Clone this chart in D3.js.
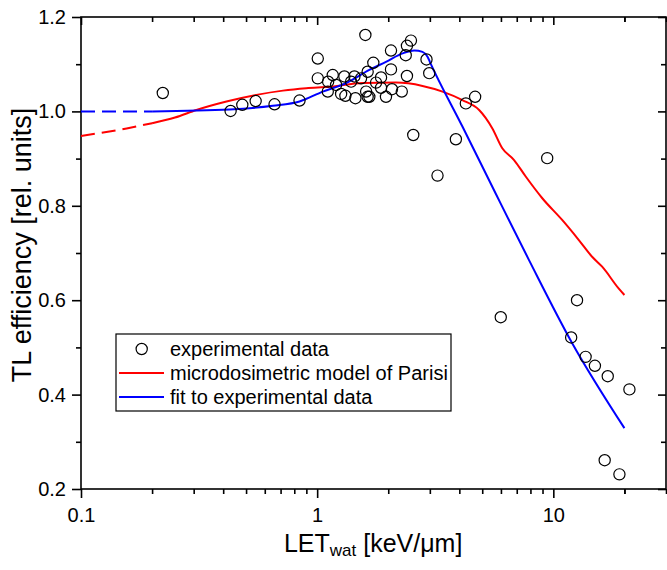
<!DOCTYPE html>
<html>
<head>
<meta charset="utf-8">
<script src="https://cdn.jsdelivr.net/npm/d3@7"></script>
<style>
  html, body { margin: 0; padding: 0; background: #fff; }
  svg { display: block; font-family: "Liberation Sans", Arial, sans-serif; }
</style>
</head>
<body>
<div id="chart"></div>
<script>
// ─── Data ────────────────────────────────────────────────────────────────────
const expX = [0.222, 0.430, 0.482, 0.549, 0.660, 0.842, 1.006, 1.006, 1.109, 1.113,
  1.164, 1.203, 1.263, 1.304, 1.317, 1.392, 1.438, 1.452, 1.534, 1.600,
  1.612, 1.636, 1.663, 1.636, 1.729, 1.776, 1.864, 1.864, 1.956, 2.054,
  2.054, 2.074, 2.282, 2.372, 2.400, 2.400, 2.495, 2.904, 2.982, 2.552,
  3.233, 3.867, 4.262, 4.665, 5.99, 9.42, 11.9, 12.6, 13.7, 15.0,
  17.0, 21.0, 16.5, 19.05];
const expY = [1.039, 1.001, 1.014, 1.022, 1.015, 1.023, 1.112, 1.070, 1.042, 1.063,
  1.077, 1.056, 1.037, 1.074, 1.033, 1.063, 1.074, 1.028, 1.070, 1.162,
  1.042, 1.031, 1.031, 1.084, 1.103, 1.061, 1.072, 1.050, 1.031, 1.129,
  1.089, 1.047, 1.042, 1.119, 1.075, 1.139, 1.150, 1.110, 1.081, 0.950,
  0.864, 0.941, 1.017, 1.031, 0.564, 0.901, 0.521, 0.600, 0.480, 0.461,
  0.439, 0.411, 0.261, 0.231];

// microdosimetric model of Parisi (dashed extrapolation + solid part)
const redDashX = [0.1, 0.156, 0.2];
const redDashY = [0.948, 0.964, 0.975];
const redX = [0.2, 0.25, 0.308, 0.413, 0.553, 0.716, 0.899, 1.127, 1.559, 2.157,
  2.793, 3.394, 4.122, 4.851, 5.52, 6.08, 6.82, 7.64, 8.98, 10.9,
  12.8, 14.6, 16.1, 18.9, 20];
const redY = [0.975, 0.987, 1.003, 1.021, 1.035, 1.044, 1.049, 1.052, 1.060, 1.061,
  1.054, 1.042, 1.024, 1.003, 0.964, 0.922, 0.897, 0.862, 0.816, 0.770,
  0.728, 0.692, 0.671, 0.625, 0.611];

// fit to experimental data
const blueDashX = [0.1, 0.2];
const blueDashY = [1.0, 1.0];
const blueX = [0.2, 0.426, 0.649, 0.842, 1.056, 1.326, 1.663, 1.956, 2.30, 2.577,
  2.793, 2.933, 3.0, 4.122, 5.70, 7.89, 12.02, 20];
const blueY = [1.000, 1.004, 1.012, 1.021, 1.042, 1.060, 1.088, 1.105, 1.123, 1.129,
  1.126, 1.116, 1.105, 0.968, 0.826, 0.685, 0.509, 0.329];

const xTicks = [0.1, 1, 10];
const xTickLabels = ['0.1', '1', '10'];
const yTicks = [0.2, 0.4, 0.6, 0.8, 1.0, 1.2];
const yMinor = [0.3, 0.5, 0.7, 0.9, 1.1];

const legendLabels = ['experimental data', 'microdosimetric model of Parisi', 'fit to experimental data'];

// ─── Layout ──────────────────────────────────────────────────────────────────
const W = 667, H = 570;
const M = { top: 17, right: 1, bottom: 81, left: 81 };
const pw = W - M.left - M.right;
const ph = H - M.top - M.bottom;

const svg = d3.select('#chart').append('svg')
  .attr('width', W).attr('height', H).attr('viewBox', `0 0 ${W} ${H}`);

const x = d3.scaleLog().domain([0.1, 30]).range([0, pw]);
const y = d3.scaleLinear().domain([0.2, 1.2]).range([ph, 0]);

const g = svg.append('g').attr('transform', `translate(${M.left},${M.top})`);

// minor x ticks: 2..9 in every decade, plus 20
const xMinor = [];
for (const d of [0.1, 1, 10]) for (let k = 2; k <= 9; k++) {
  const v = d * k;
  if (v <= 30) xMinor.push(v);
}
xMinor.push(20);

const AX = 1.6;

function styleAxis(sel) {
  sel.select('.domain').remove();
  sel.selectAll('line').attr('stroke', '#000').attr('stroke-width', AX);
  sel.selectAll('text').attr('fill', '#000').attr('font-size', 20)
    .attr('font-family', '"Liberation Sans", Arial, sans-serif');
}

// bottom axis (outward ticks)
g.append('g').attr('transform', `translate(0,${ph})`)
  .call(d3.axisBottom(x).tickValues(xTicks).tickSize(9).tickPadding(10)
    .tickFormat((d, i) => xTickLabels[i]))
  .call(styleAxis);
g.append('g').attr('transform', `translate(0,${ph})`)
  .call(d3.axisBottom(x).tickValues(xMinor).tickSize(5).tickFormat(''))
  .call(styleAxis);

// top axis (inward ticks)
g.append('g')
  .call(d3.axisTop(x).tickValues(xTicks).tickSize(-8).tickFormat(''))
  .call(styleAxis);
g.append('g')
  .call(d3.axisTop(x).tickValues(xMinor).tickSize(-5).tickFormat(''))
  .call(styleAxis);

// left axis (outward ticks)
g.append('g')
  .call(d3.axisLeft(y).tickValues(yTicks).tickSize(9).tickPadding(6)
    .tickFormat(d3.format('.1f')))
  .call(styleAxis);
g.append('g')
  .call(d3.axisLeft(y).tickValues(yMinor).tickSize(5).tickFormat(''))
  .call(styleAxis);

// right axis (inward ticks)
g.append('g').attr('transform', `translate(${pw},0)`)
  .call(d3.axisRight(y).tickValues(yTicks).tickSize(-8).tickFormat(''))
  .call(styleAxis);
g.append('g').attr('transform', `translate(${pw},0)`)
  .call(d3.axisRight(y).tickValues(yMinor).tickSize(-5).tickFormat(''))
  .call(styleAxis);

// frame
g.append('rect').attr('width', pw).attr('height', ph)
  .attr('fill', 'none').attr('stroke', '#000').attr('stroke-width', AX);

// ─── Curves ──────────────────────────────────────────────────────────────────
const line = d3.line().x(d => x(d[0])).y(d => y(d[1])).curve(d3.curveMonotoneX);
const zip = (a, b) => a.map((v, i) => [v, b[i]]);

function drawCurve(xs, ys, color, dash) {
  g.append('path').datum(zip(xs, ys))
    .attr('d', line)
    .attr('fill', 'none')
    .attr('stroke', color)
    .attr('stroke-width', 2)
    .attr('stroke-dasharray', dash || null);
}

drawCurve(redDashX, redDashY, '#ff0000', '14,7');
drawCurve(redX, redY, '#ff0000');
drawCurve(blueDashX, blueDashY, '#0000ff', '14,7');
drawCurve(blueX, blueY, '#0000ff');

// experimental points
g.selectAll('circle.exp')
  .data(zip(expX, expY))
  .join('circle')
  .attr('class', 'exp')
  .attr('cx', d => x(d[0]))
  .attr('cy', d => y(d[1]))
  .attr('r', 5.6)
  .attr('fill', 'none')
  .attr('stroke', '#000')
  .attr('stroke-width', 1.2);

// ─── Legend ──────────────────────────────────────────────────────────────────
const lg = svg.append('g').attr('transform', 'translate(116,334)');
lg.append('rect').attr('width', 335).attr('height', 77)
  .attr('fill', '#fff').attr('stroke', '#000').attr('stroke-width', 1.2);

const rows = [15, 39, 63];
lg.append('circle').attr('cx', 25.7).attr('cy', rows[0]).attr('r', 5.6)
  .attr('fill', 'none').attr('stroke', '#000').attr('stroke-width', 1.2);
lg.append('line').attr('x1', 3).attr('x2', 48).attr('y1', rows[1]).attr('y2', rows[1])
  .attr('stroke', '#ff0000').attr('stroke-width', 2);
lg.append('line').attr('x1', 3).attr('x2', 48).attr('y1', rows[2]).attr('y2', rows[2])
  .attr('stroke', '#0000ff').attr('stroke-width', 2);

lg.selectAll('text.lbl')
  .data(legendLabels)
  .join('text')
  .attr('class', 'lbl')
  .attr('x', 54)
  .attr('y', (d, i) => rows[i])
  .attr('dy', '0.35em')
  .attr('font-size', 20)
  .attr('fill', '#000')
  .text(d => d);

// ─── Axis titles ─────────────────────────────────────────────────────────────
const xt = svg.append('text')
  .attr('x', M.left + x(1) + 56).attr('y', 552)
  .attr('text-anchor', 'middle')
  .attr('font-size', 25).attr('fill', '#000');
xt.append('tspan').text('LET');
xt.append('tspan').attr('font-size', 17).attr('dy', 4).text('wat');
xt.append('tspan').attr('dy', -4).text(' [keV/\u03bcm]');

svg.append('text')
  .attr('transform', `translate(31,${M.top + ph / 2 - 8}) rotate(-90)`)
  .attr('text-anchor', 'middle')
  .attr('font-size', 27).attr('fill', '#000')
  .text('TL efficiency [rel. units]');
</script>
</body>
</html>
